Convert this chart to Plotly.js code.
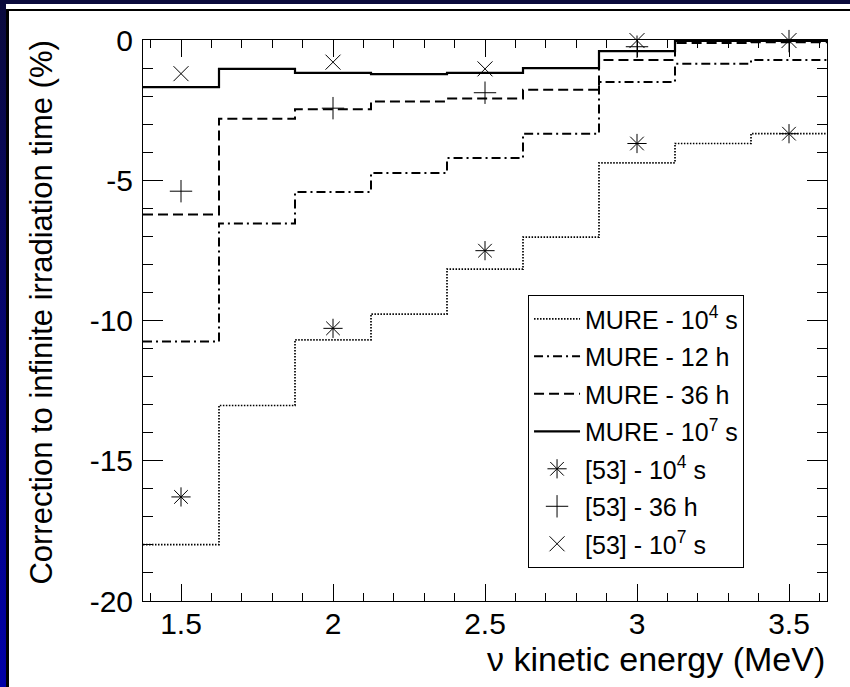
<!DOCTYPE html>
<html>
<head>
<meta charset="utf-8">
<script src="https://cdn.plot.ly/plotly-3.0.1.min.js"></script>
<style>
  html, body { margin: 0; padding: 0; background: #ffffff; }
  #wrap { position: relative; width: 850px; height: 687px; overflow: hidden; background: #ffffff; }
  #chart { position: absolute; left: 0; top: 0; width: 850px; height: 687px; }
  .deco { position: absolute; pointer-events: none; }
</style>
</head>
<body>
<div id="wrap">
  <div id="chart"></div>
  <div class="deco" style="left:0;top:0;width:850px;height:4px;background:#0a0a3c;"></div>
  <div class="deco" style="left:0;top:0;width:6px;height:687px;background:linear-gradient(#0a0a3c,#0000a8);"></div>
  <div class="deco" style="left:8px;top:9px;width:842px;height:2px;background:#000;"></div>
  <div class="deco" style="left:6px;top:9px;width:3px;height:678px;background:#000;"></div>
</div>
<script>
// ---- data ----
const binCenters = [1.5, 1.75, 2.0, 2.25, 2.5, 2.75, 3.0, 3.25, 3.5];
const binWidth = 0.25;
const mure1e4s = [-17.99, -13.03, -10.69, -9.77, -8.17, -7.03, -4.38, -3.69, -3.34];
const mure12h  = [-10.75, -6.54, -5.42, -4.74, -4.21, -3.34, -1.50, -0.85, -0.71];
const mure36h  = [-6.22, -2.81, -2.47, -2.19, -2.09, -1.77, -0.71, -0.11, -0.08];
const mure1e7s = [-1.68, -1.03, -1.17, -1.22, -1.17, -1.00, -0.40, -0.03, -0.03];

const refEnergies = [1.5, 2.0, 2.5, 3.0, 3.5];
const ref1e4s = [-16.29, -10.28, -7.51, -3.69, -3.34];
const ref36h  = [-5.39, -2.43, -1.88, -0.24, -0.04];
const ref1e7s = [-1.20, -0.79, -1.03, -0.02, -0.02];

const xTickVals = [1.5, 2, 2.5, 3, 3.5];
const yTickVals = [0, -5, -10, -15, -20];
const yTickText = ['0', '-5', '-10', '-15', '-20'];

const legendNames = [
  'MURE - 10<sup>4</sup> s',
  'MURE - 12 h',
  'MURE - 36 h',
  'MURE - 10<sup>7</sup> s',
  '[53] - 10<sup>4</sup> s',
  '[53] - 36 h',
  '[53] - 10<sup>7</sup> s'
];

// ---- histogram steps built from the bin arrays ----
function edges() {
  const e = binCenters.map(c => c - binWidth / 2);
  e.push(binCenters[binCenters.length - 1] + binWidth / 2);
  return e;
}
function stepY(vals) { return vals.concat([vals[vals.length - 1]]); }

const FONT = '"Liberation Sans", Arial, Helvetica, sans-serif';

function histTrace(vals, idx, dash, width) {
  return {
    type: 'scatter', mode: 'lines', x: edges(), y: stepY(vals), name: legendNames[idx],
    legendgroup: 'g' + idx,
    line: { shape: 'hv', color: '#000', width: width, dash: dash },
    hoverinfo: 'skip'
  };
}
function markTrace(vals, idx, symbol, size) {
  return {
    type: 'scatter', mode: 'markers', x: refEnergies, y: vals, name: legendNames[idx],
    legendgroup: 'g' + idx,
    cliponaxis: false,
    marker: { symbol: symbol, size: size, color: '#000', line: { color: '#000', width: 1 } }
  };
}

const traces = [
  histTrace(mure1e4s, 0, '1.5px,1.5px', 1.7),
  histTrace(mure12h, 1, '9px,4px,2px,4px', 2),
  histTrace(mure36h, 2, '10px,5px', 2),
  histTrace(mure1e7s, 3, 'solid', 2.2),
  markTrace(ref1e4s, 4, 'asterisk-open', 16),
  markTrace(ref36h, 5, 'cross-thin-open', 16),
  markTrace(ref1e7s, 6, 'x-thin-open', 15)
];

const L = 143.3, R = 826.7, T = 39.5, B = 601.5;
const W = 850, H = 687;

const layout = {
  width: W, height: H,
  margin: { l: L, r: W - R, t: T, b: H - B, pad: 0 },
  paper_bgcolor: 'rgba(255,255,255,0)',
  plot_bgcolor: '#ffffff',
  font: { family: FONT, color: '#000', size: 30 },
  showlegend: true,
  xaxis: {
    range: [1.375, 3.625], tickmode: 'array', tickvals: xTickVals,
    ticks: 'inside', ticklen: 17, tickwidth: 1, tickcolor: '#000',
    showline: true, linecolor: '#000', linewidth: 1, mirror: 'allticks',
    showgrid: false, zeroline: false,
    tickfont: { family: FONT, size: 30, color: '#000' },
    ticklabelstandoff: -4,
    minor: { ticks: 'inside', ticklen: 8, tickwidth: 1, tickcolor: '#000', dtick: 0.1, tick0: 1.4, showgrid: false }
  },
  yaxis: {
    range: [-20, 0], tickmode: 'array', tickvals: yTickVals, ticktext: yTickText,
    ticks: 'inside', ticklen: 20, tickwidth: 1, tickcolor: '#000',
    showline: true, linecolor: '#000', linewidth: 1, mirror: 'allticks',
    showgrid: false, zeroline: false,
    tickfont: { family: FONT, size: 30, color: '#000' },
    ticklabelstandoff: 3,
    minor: { ticks: 'inside', ticklen: 10, tickwidth: 1, tickcolor: '#000', dtick: 1, tick0: 0, showgrid: false }
  },
  legend: {
    x: (528 - L) / (R - L), y: (B - 295) / (B - T), xanchor: 'left', yanchor: 'top',
    bgcolor: '#ffffff', bordercolor: '#000', borderwidth: 1,
    font: { family: FONT, size: 25, color: '#000' },
    itemwidth: 46, tracegroupgap: 2, traceorder: 'grouped'
  },
  annotations: [
    {
      text: 'Correction to infinite irradiation time (%)', textangle: -90,
      xref: 'paper', yref: 'paper', x: (41.5 - L) / (R - L), y: (B - 38) / (B - T),
      xanchor: 'center', yanchor: 'top', showarrow: false,
      font: { family: FONT, size: 31, color: '#000' }
    },
    {
      text: 'ν kinetic energy (MeV)',
      xref: 'paper', yref: 'paper', x: 1, y: (B - 660) / (B - T),
      xanchor: 'right', yanchor: 'middle', showarrow: false,
      font: { family: FONT, size: 34, color: '#000' }
    }
  ]
};

Plotly.newPlot('chart', traces, layout, { displayModeBar: false, staticPlot: true });
</script>
</body>
</html>
